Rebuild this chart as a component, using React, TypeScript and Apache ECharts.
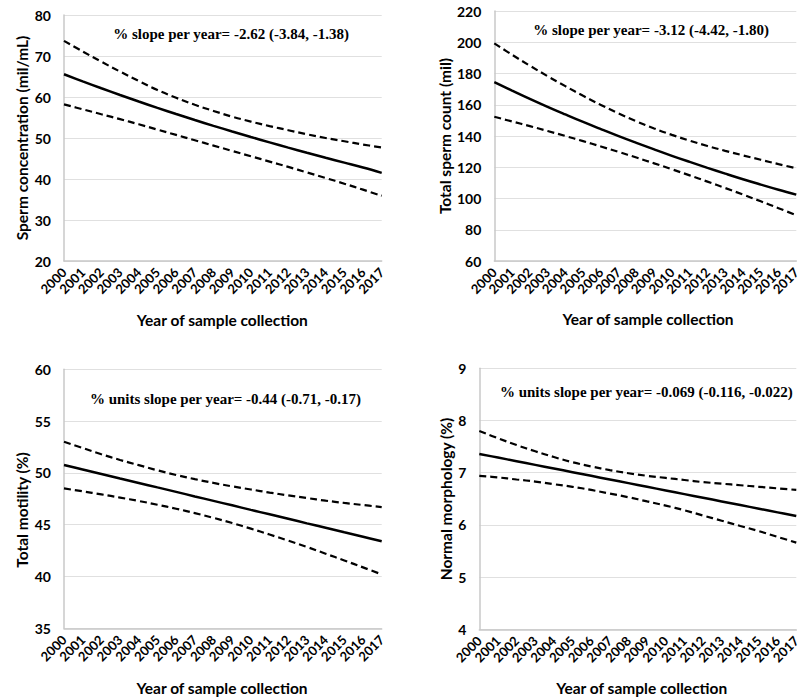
import React, { useEffect, useRef } from "react";
import * as echarts from "echarts";

const years = ["2000","2001","2002","2003","2004","2005","2006","2007","2008","2009","2010","2011","2012","2013","2014","2015","2016","2017"];

// Sperm concentration (mil/mL)
const concMain = [65.55, 63.82, 62.13, 60.49, 58.90, 57.35, 55.85, 54.39, 52.97, 51.59, 50.25, 48.94, 47.66, 46.41, 45.19, 44.00, 42.80, 41.50];
const concUpper = [73.7, 71.1, 68.6, 66.2, 63.9, 61.7, 59.8, 58.1, 56.6, 55.2, 54.0, 52.9, 51.9, 50.9, 50.0, 49.2, 48.4, 47.7];
const concLower = [58.2, 57.0, 55.8, 54.6, 53.35, 52.05, 50.75, 49.45, 48.15, 46.85, 45.55, 44.25, 42.95, 41.6, 40.25, 38.85, 37.4, 35.9];

// Total sperm count (mil)
const countMain = [174.5, 169.1, 163.8, 158.7, 153.8, 149.0, 144.4, 139.9, 135.6, 131.4, 127.3, 123.4, 119.6, 115.9, 112.3, 108.9, 105.6, 102.5];
const countUpper = [199.3, 192.0, 185.0, 178.3, 171.9, 165.7, 159.9, 154.4, 149.4, 144.8, 140.7, 137.0, 133.6, 130.5, 127.6, 124.8, 122.0, 119.3];
const countLower = [152.3, 149.3, 146.3, 143.2, 140.0, 136.7, 133.3, 129.8, 126.2, 122.5, 118.7, 114.8, 110.8, 106.7, 102.5, 98.2, 93.8, 89.3];

// Total motility (%)
const motMain = [50.76, 50.33, 49.90, 49.46, 49.03, 48.60, 48.17, 47.73, 47.30, 46.87, 46.43, 46.00, 45.57, 45.13, 44.70, 44.27, 43.84, 43.40];
const motUpper = [53.0, 52.4, 51.8, 51.25, 50.75, 50.25, 49.8, 49.4, 49.03, 48.7, 48.4, 48.1, 47.83, 47.57, 47.32, 47.1, 46.9, 46.7];
const motLower = [48.5, 48.22, 47.93, 47.62, 47.29, 46.93, 46.54, 46.12, 45.66, 45.16, 44.62, 44.05, 43.46, 42.85, 42.2, 41.55, 40.88, 40.2];

// Normal morphology (%)
const morphMain = [7.36, 7.29, 7.22, 7.15, 7.08, 7.01, 6.94, 6.87, 6.80, 6.73, 6.66, 6.59, 6.52, 6.45, 6.38, 6.31, 6.24, 6.17];
const morphUpper = [7.80, 7.66, 7.53, 7.41, 7.30, 7.20, 7.12, 7.05, 6.99, 6.94, 6.90, 6.86, 6.82, 6.79, 6.76, 6.73, 6.70, 6.67];
const morphLower = [6.94, 6.91, 6.87, 6.83, 6.78, 6.73, 6.67, 6.60, 6.53, 6.45, 6.37, 6.28, 6.18, 6.08, 5.98, 5.88, 5.77, 5.66];

const yTitles = ["Sperm concentration (mil/mL)", "Total sperm count (mil)", "Total motility (%)", "Normal morphology (%)"];
const xTitle = "Year of sample collection";
const notes = [
  "% slope per year= -2.62 (-3.84, -1.38)",
  "% slope per year= -3.12 (-4.42, -1.80)",
  "% units slope per year= -0.44 (-0.71, -0.17)",
  "% units slope per year= -0.069 (-0.116, -0.022)",
];
const yRanges = [
  { min: 20, max: 80, interval: 10 },
  { min: 60, max: 220, interval: 20 },
  { min: 35, max: 60, interval: 5 },
  { min: 4, max: 9, interval: 1 },
];

const panels = [
  { main: concMain, upper: concUpper, lower: concLower },
  { main: countMain, upper: countUpper, lower: countLower },
  { main: motMain, upper: motUpper, lower: motLower },
  { main: morphMain, upper: morphUpper, lower: morphLower },
];

const grids = [
  { left: 64, top: 15, right: 421.3, bottom: 437 },
  { left: 494.3, top: 11, right: 1, bottom: 437 },
  { left: 64, top: 369.3, right: 421.3, bottom: 69.7 },
  { left: 479.3, top: 368.3, right: -2, bottom: 68.7 },
];

const yTitlePos = [
  { x: 22, y: 138 },
  { x: 445, y: 136 },
  { x: 22, y: 510 },
  { x: 445.7, y: 499 },
];
const xTitlePos = [
  { x: 222.3, y: 320 },
  { x: 648, y: 319.3 },
  { x: 222, y: 688 },
  { x: 641.7, y: 688 },
];
const notePos = [
  { x: 231, y: 34.3 },
  { x: 651, y: 30 },
  { x: 225.5, y: 399 },
  { x: 646.3, y: 392.3 },
];

const SANS = "Lato, 'Open Sans', sans-serif";
const SERIF = "'Liberation Serif', 'DejaVu Serif', serif";

export default function App() {
  const ref = useRef<HTMLDivElement>(null);
  useEffect(() => {
    if (!ref.current) return;
    const chart = echarts.init(ref.current, null, { renderer: "svg" });

    const xAxis = grids.map((_, i) => ({
      type: "category",
      gridIndex: i,
      data: years,
      boundaryGap: false,
      axisLine: { show: true, lineStyle: { color: "#c8c8c8", width: 1.5 } },
      axisTick: { show: false },
      axisLabel: {
        interval: 0,
        rotate: 45,
        margin: 9,
        fontFamily: SANS,
        fontWeight: "bold",
        fontSize: 13,
        color: "#000",
      },
      splitLine: { show: false },
    }));

    const yAxis = yRanges.map((r, i) => ({
      type: "value",
      gridIndex: i,
      min: r.min,
      max: r.max,
      interval: r.interval,
      axisLine: { show: true, lineStyle: { color: "#c8c8c8", width: 1.5 } },
      axisTick: { show: false },
      axisLabel: {
        margin: 13,
        fontFamily: SANS,
        fontWeight: "bold",
        fontSize: 14,
        color: "#000",
      },
      splitLine: { show: true, lineStyle: { color: "#e0e0e0", width: 1.2 } },
    }));

    const series: any[] = [];
    panels.forEach((p, i) => {
      series.push({
        type: "line",
        xAxisIndex: i,
        yAxisIndex: i,
        data: p.upper,
        symbol: "none",
        smooth: 0.4,
        lineStyle: { color: "#000", width: 2.2, type: [7, 4] },
      });
      series.push({
        type: "line",
        xAxisIndex: i,
        yAxisIndex: i,
        data: p.main,
        symbol: "none",
        smooth: 0.4,
        lineStyle: { color: "#000", width: 2.5, type: "solid" },
      });
      series.push({
        type: "line",
        xAxisIndex: i,
        yAxisIndex: i,
        data: p.lower,
        symbol: "none",
        smooth: 0.4,
        lineStyle: { color: "#000", width: 2.2, type: [7, 4] },
      });
    });

    const graphic: any[] = [];
    for (let i = 0; i < 4; i++) {
      graphic.push({
        type: "text",
        x: yTitlePos[i].x,
        y: yTitlePos[i].y,
        rotation: Math.PI / 2,
        style: {
          text: yTitles[i],
          font: `bold 15.5px ${SANS}`,
          fill: "#000",
          textAlign: "center",
          textVerticalAlign: "middle",
        },
      });
      graphic.push({
        type: "text",
        x: xTitlePos[i].x,
        y: xTitlePos[i].y,
        style: {
          text: xTitle,
          font: `bold 15.5px ${SANS}`,
          fill: "#000",
          textAlign: "center",
          textVerticalAlign: "middle",
        },
      });
      graphic.push({
        type: "text",
        x: notePos[i].x,
        y: notePos[i].y,
        style: {
          text: notes[i],
          font: `bold 15px ${SERIF}`,
          fill: "#000",
          textAlign: "center",
          textVerticalAlign: "middle",
        },
      });
    }

    chart.setOption({
      animation: false,
      backgroundColor: "#ffffff",
      grid: grids.map((g) => ({ ...g, containLabel: false })),
      xAxis,
      yAxis,
      series,
      graphic,
    });
    return () => chart.dispose();
  }, []);

  return (
    <div
      ref={ref}
      style={{ position: "absolute", left: 0, top: 0, width: 803, height: 698, background: "#fff" }}
    />
  );
}
